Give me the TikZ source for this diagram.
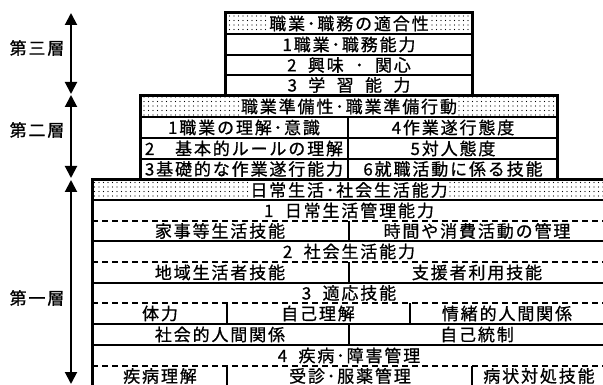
\documentclass[tikz,border=0pt]{standalone}
\usepackage{fontspec}
\newfontfamily\jp[LetterSpace=11,FakeBold=0.8]{Noto Sans CJK JP}
\usetikzlibrary{patterns.meta,arrows.meta}
\begin{document}
\begin{tikzpicture}[x=1pt,y=-1pt,
  txt/.style={font=\jp\fontsize{17}{17}\selectfont, inner sep=0pt, anchor=center},
  hdr/.style={txt, fill=white, inner xsep=1pt, inner ysep=1.5pt},
  border/.style={line width=3pt},
  hl/.style={line width=2pt},
  dl/.style={line width=2pt, dash pattern=on 6pt off 4pt},
  dotfill/.style={pattern={Dots[distance=4.5pt,radius=0.6pt]}, pattern color=black},
  arr/.style={line width=2pt, {Triangle[width=12pt,length=12pt]}-{Triangle[width=12pt,length=12pt]}}
]
\useasboundingbox (0,0) rectangle (603,385);

% dotted header backgrounds
\fill[dotfill] (225,13) rectangle (472,34);
\fill[dotfill] (140,96) rectangle (557,117);
\fill[dotfill] (92,180) rectangle (606,200);

% header texts
\node[hdr] (h3) at (349,23.5) {職業･職務の適合性};
\node[hdr] (h2) at (349,106.5) {職業準備性･職業準備行動};
\node[hdr] (h1) at (349,190) {日常生活･社会生活能力};

% layer 3
\draw[border] (225,95) -- (225,13) -- (472,13) -- (472,95);
\draw[hl] (225,34) -- (472,34);
\draw[hl] (225,55) -- (472,55);
\draw[hl] (225,75) -- (472,75);
\node[txt] (t31) at (349,44.5) {1職業･職務能力};
\node[txt] (t32) at (349,65) {2\ \ 興味\ \ ･\ \ 関心};
\node[txt] (t33) at (349,85) {3\ \ 学\ \ 習\ \ 能\ \ 力};

% layer 2
\draw[border] (140,179) -- (140,96) -- (557,96) -- (557,179);
\draw[hl] (140,117) -- (557,117);
\draw[hl] (140,138) -- (557,138);
\draw[hl] (140,159) -- (557,159);
\draw[hl] (348,117) -- (348,179);
\node[txt] (t21) at (244,127.5) {1職業の理解･意識};
\node[txt] (t24) at (453,127.5) {4作業遂行態度};
\node[txt] (t22) at (244,148.5) {2　基本的ルールの理解};
\node[txt] (t25) at (453,148.5) {5対人態度};
\node[txt] (t23) at (244,169) {3基礎的な作業遂行能力};
\node[txt] (t26) at (453,169) {6就職活動に係る技能};

% layer 1
\draw[border] (92,392) -- (92,180) -- (606,180);
\draw[hl] (92,200) -- (606,200);
\draw[dl] (92,221) -- (606,221);
\draw[hl] (92,241) -- (606,241);
\draw[dl] (92,262) -- (606,262);
\draw[hl] (92,283) -- (606,283);
\draw[dl] (92,303) -- (606,303);
\draw[hl] (92,324) -- (606,324);
\draw[hl] (92,345) -- (606,345);
\draw[dl] (92,366) -- (606,366);
\draw[hl] (349,221) -- (349,241);
\draw[hl] (349,262) -- (349,283);
\draw[hl] (227,303) -- (227,324);
\draw[hl] (410,303) -- (410,324);
\draw[hl] (349,324) -- (349,345);
\draw[hl] (227,366) -- (227,392);
\draw[hl] (472,366) -- (472,392);

\node[txt] (t1a) at (349,210.5) {1\ \ 日常生活管理能力};
\node[txt] (t1b) at (220,231) {家事等生活技能};
\node[txt] (t1c) at (477,231) {時間や消費活動の管理};
\node[txt] (t1d) at (349,251.5) {2\ \ 社会生活能力};
\node[txt] (t1e) at (220,272.5) {地域生活者技能};
\node[txt] (t1f) at (477,272.5) {支援者利用技能};
\node[txt] (t1g) at (349,293) {3\ \ 適応技能};
\node[txt] (t1h) at (160,313.5) {体力};
\node[txt] (t1i) at (318,313.5) {自己理解};
\node[txt] (t1j) at (507,313.5) {情緒的人間関係};
\node[txt] (t1k) at (220,334.5) {社会的人間関係};
\node[txt] (t1l) at (477,334.5) {自己統制};
\node[txt] (t1m) at (349,355.5) {4\ \ 疾病･障害管理};
\node[txt] (t1n) at (160,376) {疾病理解};
\node[txt] (t1o) at (350,376) {受診･服薬管理};
\node[txt] (t1p) at (539,376) {病状対処技能};

% side arrows and labels
\coordinate (a3t) at (71,13);
\coordinate (a3b) at (71,94);
\coordinate (a2t) at (71,95);
\coordinate (a2b) at (71,178);
\coordinate (a1t) at (71,180);
\coordinate (a1b) at (71,384);
\draw[arr] (a3t) -- (a3b);
\draw[arr] (a2t) -- (a2b);
\draw[arr] (a1t) -- (a1b);
\node[txt] (l3) at (37,48) {第三層};
\node[txt] (l2) at (37,130) {第二層};
\node[txt] (l1) at (37,298) {第一層};
\end{tikzpicture}
\end{document}
